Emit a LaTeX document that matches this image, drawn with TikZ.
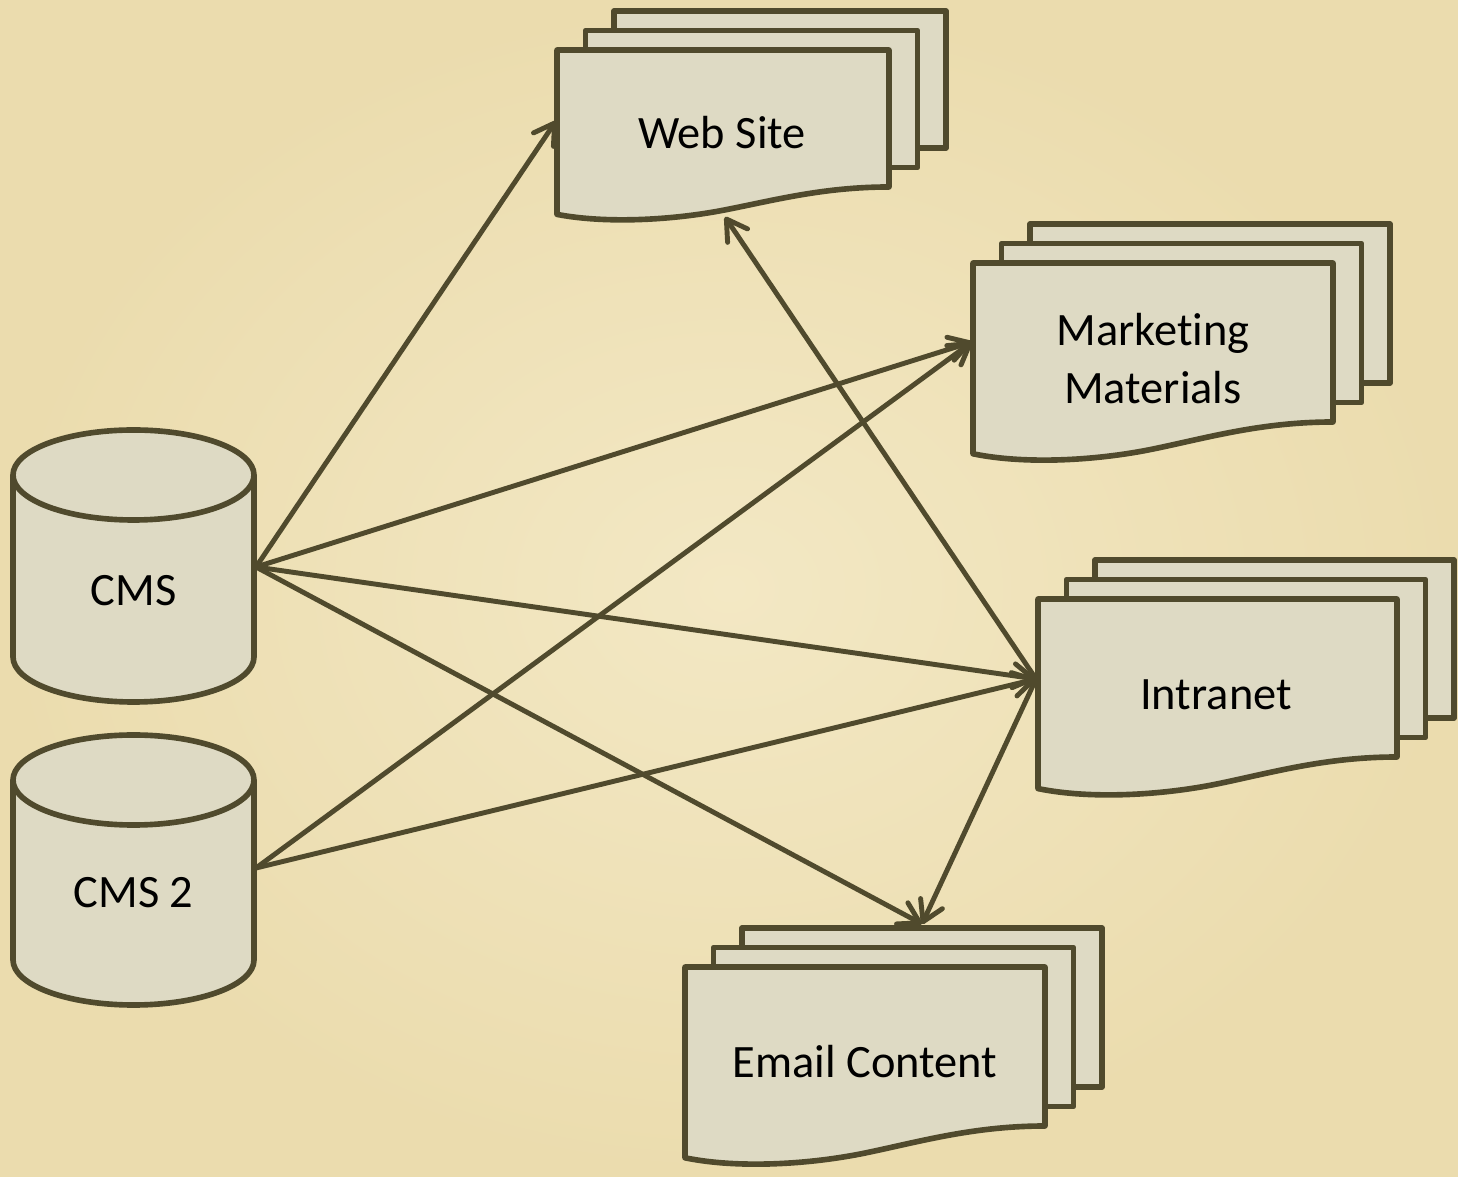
\documentclass[tikz,border=0pt]{standalone}
\usepackage{fontspec}
\setmainfont{Carlito}[Ligatures=NoCommon]
\usetikzlibrary{arrows.meta}

\definecolor{parch}{HTML}{F3E8C4}
\definecolor{parchdark}{HTML}{EBDCAE}
\definecolor{sheetfill}{HTML}{DEDAC4}
\definecolor{ink}{HTML}{504A2D}

% stack of three pages: #1 left, #2 top, #3 width, #4 height of the front page's right edge
\newcommand\docstack[4]{%
  \foreach \k in {2,1} {
    \draw[sheet] ({#1+28.5*\k},{#2-19.5*\k}) rectangle ({#1+#3+28.5*\k},{#2+#4-19.5*\k});
  }
  \draw[sheet] (#1,#2) -- ({#1+#3},#2) -- ({#1+#3},{#2+#4})
    .. controls ({#1+0.8*#3},{#2+#4}) and ({#1+0.65*#3},{#2+1.1*#4}) .. ({#1+0.5*#3},{#2+1.17*#4})
    .. controls ({#1+0.35*#3},{#2+1.24*#4}) and ({#1+0.15*#3},{#2+1.27*#4}) .. (#1,{#2+1.2*#4}) -- cycle;
}

% database cylinder: #1 centre x, #2 centre y of the lid, #3 centre y of the base
\newcommand\dbcylinder[3]{%
  \draw[sheet] ({#1-120.5},#2) -- ({#1-120.5},#3)
    .. controls ({#1-120.5},{#3+24.9}) and ({#1-66.5},{#3+45}) .. (#1,{#3+45})
    .. controls ({#1+66.5},{#3+45}) and ({#1+120.5},{#3+24.9}) .. ({#1+120.5},#3)
    -- ({#1+120.5},#2)
    .. controls ({#1+120.5},{#2-24.9}) and ({#1+66.5},{#2-45}) .. (#1,{#2-45})
    .. controls ({#1-66.5},{#2-45}) and ({#1-120.5},{#2-24.9}) .. ({#1-120.5},#2) -- cycle;
  \draw[sheet,fill=none] ({#1-120.5},#2)
    .. controls ({#1-120.5},{#2+24.9}) and ({#1-66.5},{#2+45}) .. (#1,{#2+45})
    .. controls ({#1+66.5},{#2+45}) and ({#1+120.5},{#2+24.9}) .. ({#1+120.5},#2);
}

\begin{document}
\begin{tikzpicture}[x=0.01cm,y=-0.01cm,
  sheet/.style={draw=ink,fill=sheetfill,line width=1.6pt,line join=round},
  label/.style={inner sep=0pt,font=\fontsize{13.2}{16.5}\selectfont,text=black,align=center},
  flow/.style={draw=ink,line width=1.4pt,line cap=round,
    -{Straight Barb[length=2mm,width=2.4mm,round]}}]

\useasboundingbox (0,0) rectangle (1458,1177);
\shade[inner color=parch,outer color=parchdark] (0,0) rectangle (1458,1177);

% sources
\dbcylinder{133.5}{475}{657}
\dbcylinder{133.5}{780}{960}
\node[label] (cms)  at (133.5,591) {CMS};
\node[label] (cms2) at (133.5,893) {CMS 2};

% outputs
\docstack{557}{50}{332}{137}
\docstack{973}{263}{360}{159}
\docstack{1038}{599}{359}{158}
\docstack{685}{967}{360}{159}
\node[label] (web)   at (722,133)  {Web Site};
\node[label] (mkt)   at (1153,359) {Marketing\\Materials};
\node[label] (intra) at (1216,695) {Intranet};
\node[label] (email) at (865,1062) {Email Content};

% attachment points
\coordinate (cmsR)  at (256,567);
\coordinate (cms2R) at (256,868);
\coordinate (webL)  at (556,121);
\coordinate (webB)  at (725,217);
\coordinate (mktL)  at (972,342);
\coordinate (intL)  at (1036,679);
\coordinate (emlT)  at (922,924);

% connectors
\draw[flow] (cmsR) -- (webL);
\draw[flow] (cmsR) -- (mktL);
\draw[flow] (cmsR) -- (intL);
\draw[flow] (cmsR) -- (emlT);
\draw[flow] (cms2R) -- (mktL);
\draw[flow] (cms2R) -- (intL);
\draw[flow] (intL) -- (webB);
\draw[flow] (intL) -- (emlT);
\end{tikzpicture}
\end{document}
